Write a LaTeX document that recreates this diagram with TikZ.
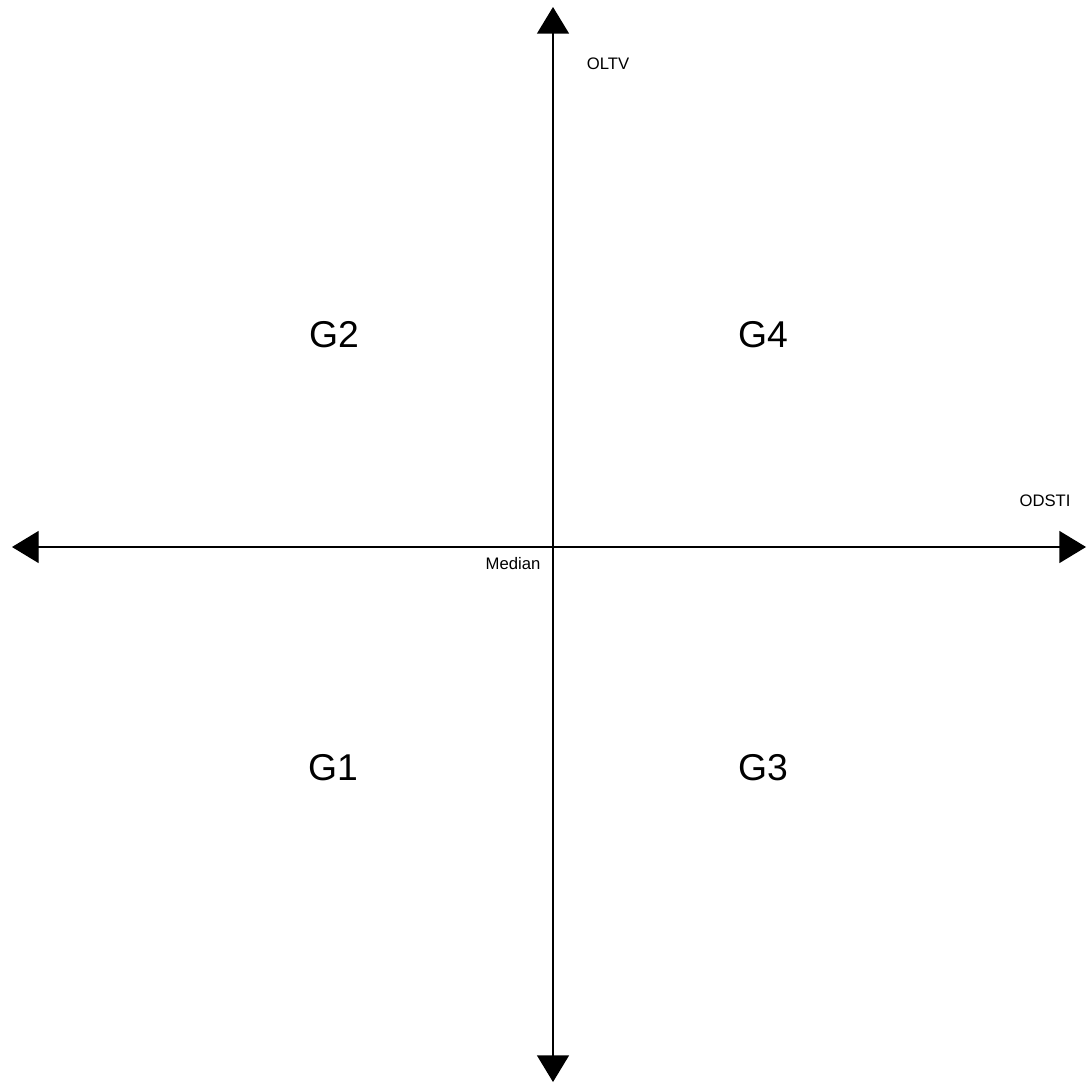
\documentclass[tikz,border=0pt]{standalone}
\usepackage{fontspec}
\setmainfont{Liberation Sans}
\usetikzlibrary{arrows.meta, positioning}

\begin{document}
\begin{tikzpicture}[
    x=0.75pt, y=-0.75pt,
    axis/.style={{Triangle[width=24pt, length=20pt]}-{Triangle[width=24pt, length=20pt]}, line width=1pt},
    group/.style={font=\fontsize{28}{32}\selectfont},
    axislabel/.style={font=\fontsize{12.5}{14}\selectfont}
]
    \useasboundingbox (0,0) rectangle (1086,1087);

    % Axis ends
    \coordinate (top) at (553,7);
    \coordinate (bottom) at (553,1082);
    \coordinate (left) at (12,547);
    \coordinate (right) at (1086,547);

    % Groups
    \node[group] (g2) at (334,335) {G2};
    \node[group] (g4) at (763,335) {G4};
    \node[group] (g1) at (333,768) {G1};
    \node[group] (g3) at (763,768) {G3};

    % Labels
    \node[axislabel] (oltv) at (608,64) {OLTV};
    \node[axislabel] (odsti) at (1045,501) {ODSTI};
    \node[axislabel] (median) at (513,564) {Median};

    % Arrows
    \draw[axis] (left) -- (right);
    \draw[axis] (bottom) -- (top);
\end{tikzpicture}
\end{document}
